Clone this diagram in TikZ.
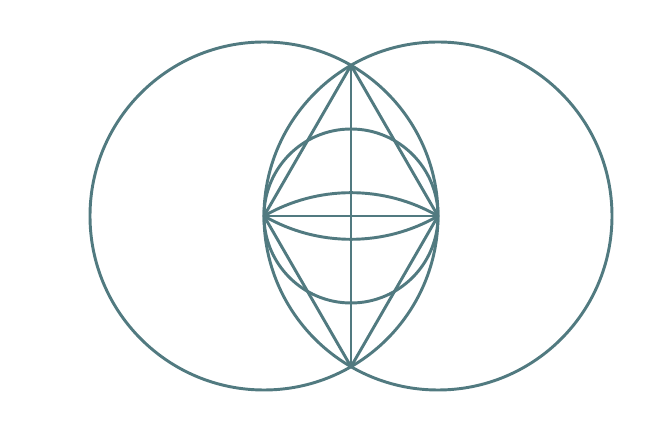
\documentclass[tikz,border=0pt]{standalone}
\usepackage{xcolor}
\usepackage{tikz}
\definecolor{vesica}{HTML}{517A80}

\begin{document}
\begin{tikzpicture}[x=0.75pt, y=0.75pt, line width=2.2pt, line join=round,
    figline/.style={draw=vesica}]
    \useasboundingbox (0,0) rectangle (668,446);
    \def\r{174}

    % Centres and intersection points
    \coordinate (L) at (264,230);
    \coordinate (R) at (438,230);
    \coordinate (M) at (351,230);
    \coordinate (T) at (351,380.7);
    \coordinate (B) at (351,79.3);

    % Two large circles
    \foreach \c in {L,R} {
        \draw[figline] (\c) circle (\r);
    }

    % Inner circle
    \draw[figline] (M) circle (\r/2);

    % Rhombus and axes
    \draw[figline] (T) -- (R) -- (B) -- (L) -- cycle;
    \draw[figline] (T) -- (B);
    \draw[figline] (L) -- (R);

    % Horizontal lens
    \draw[figline] (L) arc (120:60:\r);
    \draw[figline] (L) arc (240:300:\r);
\end{tikzpicture}
\end{document}
